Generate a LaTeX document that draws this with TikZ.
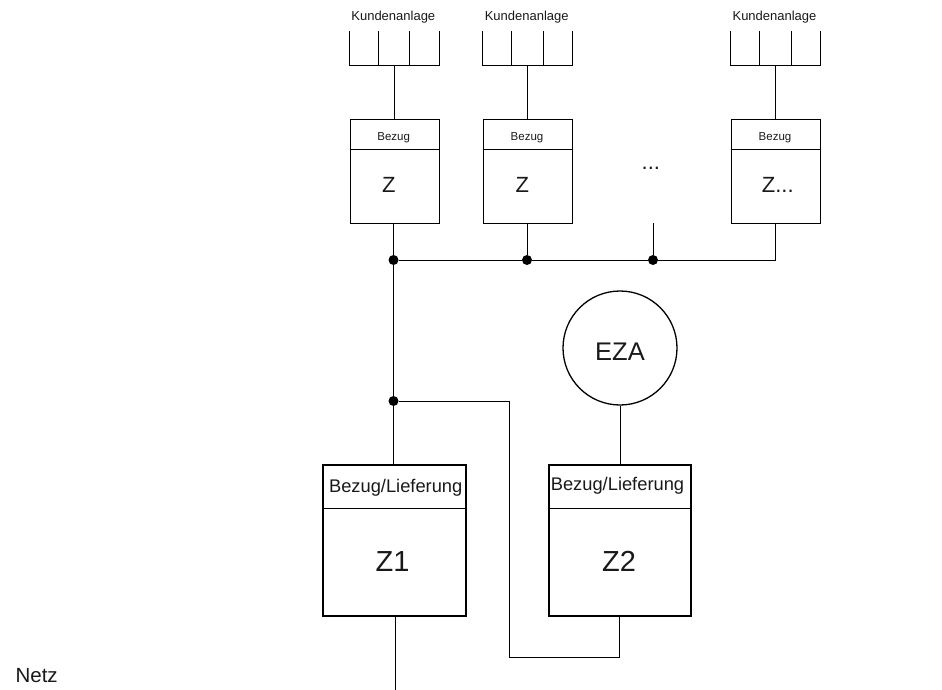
\documentclass[tikz,border=0pt]{standalone}
\usepackage{fontspec}
\setmainfont{Liberation Sans}
\usetikzlibrary{calc}
\newcommand{\fsz}[1]{\fontsize{#1}{#1}\selectfont}
\tikzset{
  wire/.style={line width=1pt,black},
  thinbox/.style={draw=black,line width=1pt,rectangle,inner sep=0pt,fill=none},
  thickbox/.style={draw=black,line width=2pt,rectangle,inner sep=0pt,fill=none},
  lbl/.style={inner sep=0pt,anchor=base,text=black!90},
  junction/.style={circle,fill=black,draw=none,minimum size=10pt,inner sep=0pt}
}
\begin{document}
\begin{tikzpicture}[x=1pt,y=-1pt]
\useasboundingbox (0,0) rectangle (942,690);
% small meter boxes
\node[thinbox,minimum width=89pt,minimum height=103pt] (b1) at (394.5,171.5) {};
\node[thinbox,minimum width=89pt,minimum height=103pt] (b2) at (527.5,171.5) {};
\node[thinbox,minimum width=89pt,minimum height=103pt] (b3) at (775.5,171.5) {};
\draw[wire] (b1.west |- 0,149) -- (b1.east |- 0,149);
\draw[wire] (b2.west |- 0,149) -- (b2.east |- 0,149);
\draw[wire] (b3.west |- 0,149) -- (b3.east |- 0,149);
\foreach \n/\x in {b1/393.7,b2/527,b3/775}{
  \node[lbl,font=\fsz{11.5}] (\n t) at (\x,140) {Bezug};
}
\node[lbl,font=\fsz{22}] (z1) at (388.8,192.6) {Z};
\node[lbl,font=\fsz{22}] (z2) at (522.3,192.6) {Z};
\node[lbl,font=\fsz{22}] (z3) at (777.8,192.6) {Z...};
\node[lbl,font=\fsz{22}] (dots) at (650.8,169) {...};
% customer combs
\foreach \n/\x/\t/\a/\b/\c/\d in {k1/394/393.3/349/378/409.5/439,k2/527.5/526.7/482/511.5/543/572,k3/775.5/774.5/730/759.5/791/820}{
  \node[lbl,font=\fsz{13}] (\n) at (\t,20.7) {Kundenanlage};
  \coordinate (\n a) at (\a,66);
  \coordinate (\n d) at (\d,66);
  \coordinate (\n s) at (\x,66);
  \draw[wire] (\a,31) -- (\n a) -- (\n d) -- (\d,31);
  \draw[wire] (\b,31) -- (\b,66);
  \draw[wire] (\c,31) -- (\c,66);
}
\draw[wire] (k1s) -- (k1s |- b1.north);
\draw[wire] (k2s) -- (k2s |- b2.north);
\draw[wire] (k3s) -- (k3s |- b3.north);
% large meters
\node[thickbox,minimum width=142.5pt,minimum height=150.5pt] (m1) at (394.25,540.25) {};
\node[thickbox,minimum width=142.5pt,minimum height=150.5pt] (m2) at (619.75,540.25) {};
\draw[wire] (m1.west |- 0,508) -- (m1.east |- 0,508);
\draw[wire] (m2.west |- 0,508) -- (m2.east |- 0,508);
\node[lbl,font=\fsz{18.3}] (m1t) at (395.7,492.7) {Bezug/Lieferung};
\node[lbl,font=\fsz{18.3}] (m2t) at (617.5,490.7) {Bezug/Lieferung};
\node[lbl,font=\fsz{29}] (m1z) at (392.5,571.7) {Z1};
\node[lbl,font=\fsz{29}] (m2z) at (619,571.7) {Z2};
\node[circle,draw=black,line width=1.3pt,minimum size=114pt,inner sep=0pt] (eza) at (620,348) {};
\node[lbl,font=\fsz{25.5}] (ezat) at (620,360) {EZA};
% junctions
\node[junction] (j1) at (393.5,260) {};
\node[junction] (j2) at (527,260) {};
\node[junction] (j3) at (653,260) {};
\node[junction] (j4) at (393.5,401) {};
\coordinate (top3) at (653,223);
\coordinate (bend1) at (509,401);
\coordinate (bend2) at (509,657);
\coordinate (bend3) at (619.5,657);
\coordinate (netzend) at (395.7,690);
\draw[wire] (j1 |- b1.south) -- (j1);
\draw[wire] (j2 |- b2.south) -- (j2);
\draw[wire] (top3) -- (j3);
\draw[wire] (j1) -- (j2) -- (j3) -- (775.5,260) -- (b3.south);
\draw[wire] (j1) -- (j4);
\draw[wire] (j4) -- (j4 |- m1.north);
\draw[wire] (j4) -- (bend1) -- (bend2) -- (bend3) -- (bend3 |- m2.south);
\draw[wire] (eza.south) -- (m2.north -| eza.south);
\draw[wire] (netzend |- m1.south) -- (netzend);
\node[lbl,font=\fsz{20.5},anchor=base west] (netz) at (15.4,682.3) {Netz};
\end{tikzpicture}
\end{document}
